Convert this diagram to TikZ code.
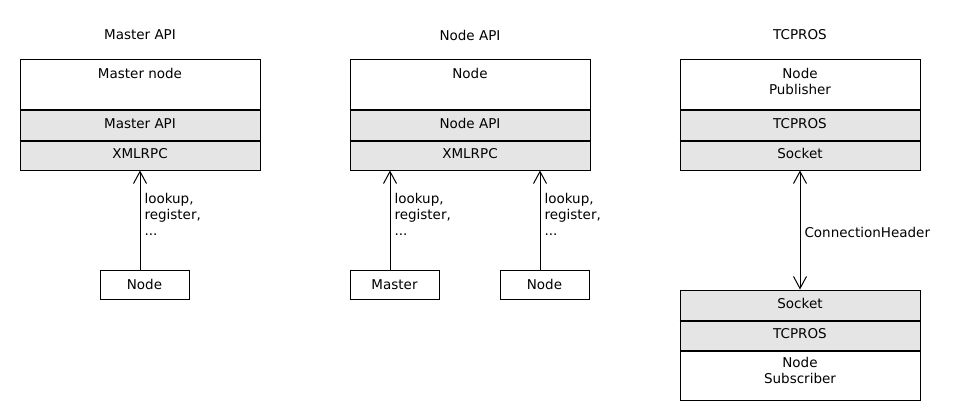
\documentclass[tikz,border=0pt]{standalone}
\usepackage{fontspec}
\setmainfont{DejaVu Sans}
\usepackage{tikz}
\usetikzlibrary{arrows.meta}
\usetikzlibrary{positioning}
\definecolor{layergray}{HTML}{E5E5E5}
\tikzset{
  every node/.style={font=\fontsize{13.5}{16}\selectfont},
  hostcell/.style={draw=black, line width=1pt, minimum width=240pt, minimum height=50pt, inner sep=0pt},
  layer/.style={draw=black, line width=1pt, fill=layergray, minimum width=240pt, minimum height=30pt, inner sep=0pt, text height=10pt, text depth=3pt},
  client/.style={draw=black, line width=1pt, minimum width=89pt, minimum height=29pt, inner sep=0pt},
  caption/.style={inner sep=0pt, align=center, anchor=north},
  msg/.style={inner sep=0pt, align=left},
  sepline/.style={line width=2pt},
  call/.style={line width=1pt, -{Straight Barb[length=12pt,width=13pt]}},
  duplex/.style={line width=1pt, {Straight Barb[length=12pt,width=13pt]}-{Straight Barb[length=12pt,width=13pt]}},
}
\begin{document}
\begin{tikzpicture}[x=1pt, y=-1pt]
    \useasboundingbox (0,0) rectangle (970,420);
    % titles
    \node (T1) at (140,35) {Master API};
    \node (T2) at (470,35) {Node API};
    \node (T3) at (800,35) {TCPROS};
    % master
    \node[hostcell] (M) at (140,85) {};
    \node[caption] (Mt) at (140,68) {Master node};
    \node[layer] (Mapi) at (140,125) {Master API};
    \node[layer] (Mx) at (140,155) {XMLRPC};
    \draw[sepline] (M.south west) -- (M.south east);
    \draw[sepline] (Mapi.south west) -- (Mapi.south east);
    \node[client] (C1) at (144.5,284.5) {Node};
    \path[call] (C1.north -| Mx.south) edge node[msg, right=4pt, pos=0.56] {lookup,\\register,\\...} (Mx.south);
    % node api
    \node[hostcell] (N) at (470,85) {};
    \node[caption] (Nt) at (470,68) {Node};
    \node[layer] (Napi) at (470,125) {Node API};
    \node[layer] (Nx) at (470,155) {XMLRPC};
    \draw[sepline] (N.south west) -- (N.south east);
    \draw[sepline] (Napi.south west) -- (Napi.south east);
    \node[client] (C2) at (394.5,284.5) {Master};
    \node[client] (C3) at (544.5,284.5) {Node};
    \path[call] ([xshift=-4.5pt]C2.north) edge node[msg, right=4pt, pos=0.56] {lookup,\\register,\\...} ([xshift=-4.5pt]C2.north |- Nx.south);
    \path[call] ([xshift=-4.5pt]C3.north) edge node[msg, right=4pt, pos=0.56] {lookup,\\register,\\...} ([xshift=-4.5pt]C3.north |- Nx.south);
    % tcpros publisher
    \node[hostcell] (P) at (800,85) {};
    \node[caption] (Pt) at (800,68) {Node\\Publisher};
    \node[layer] (Ptcp) at (800,125) {TCPROS};
    \node[layer] (Psock) at (800,155) {Socket};
    \draw[sepline] (P.south west) -- (P.south east);
    \draw[sepline] (Ptcp.south west) -- (Ptcp.south east);
    % tcpros subscriber
    \node[layer] (Ssock) at (800,305) {Socket};
    \node[layer] (Stcp) at (800,335) {TCPROS};
    \node[hostcell] (S) at (800,375) {};
    \node[caption] (St) at (800,357) {Node\\Subscriber};
    \draw[sepline] (Ssock.south west) -- (Ssock.south east);
    \draw[sepline] (Stcp.south west) -- (Stcp.south east);
    \path[duplex] (Psock.south) edge node[msg, right=4pt, pos=0.52] {ConnectionHeader} (Ssock.north);
\end{tikzpicture}
\end{document}
